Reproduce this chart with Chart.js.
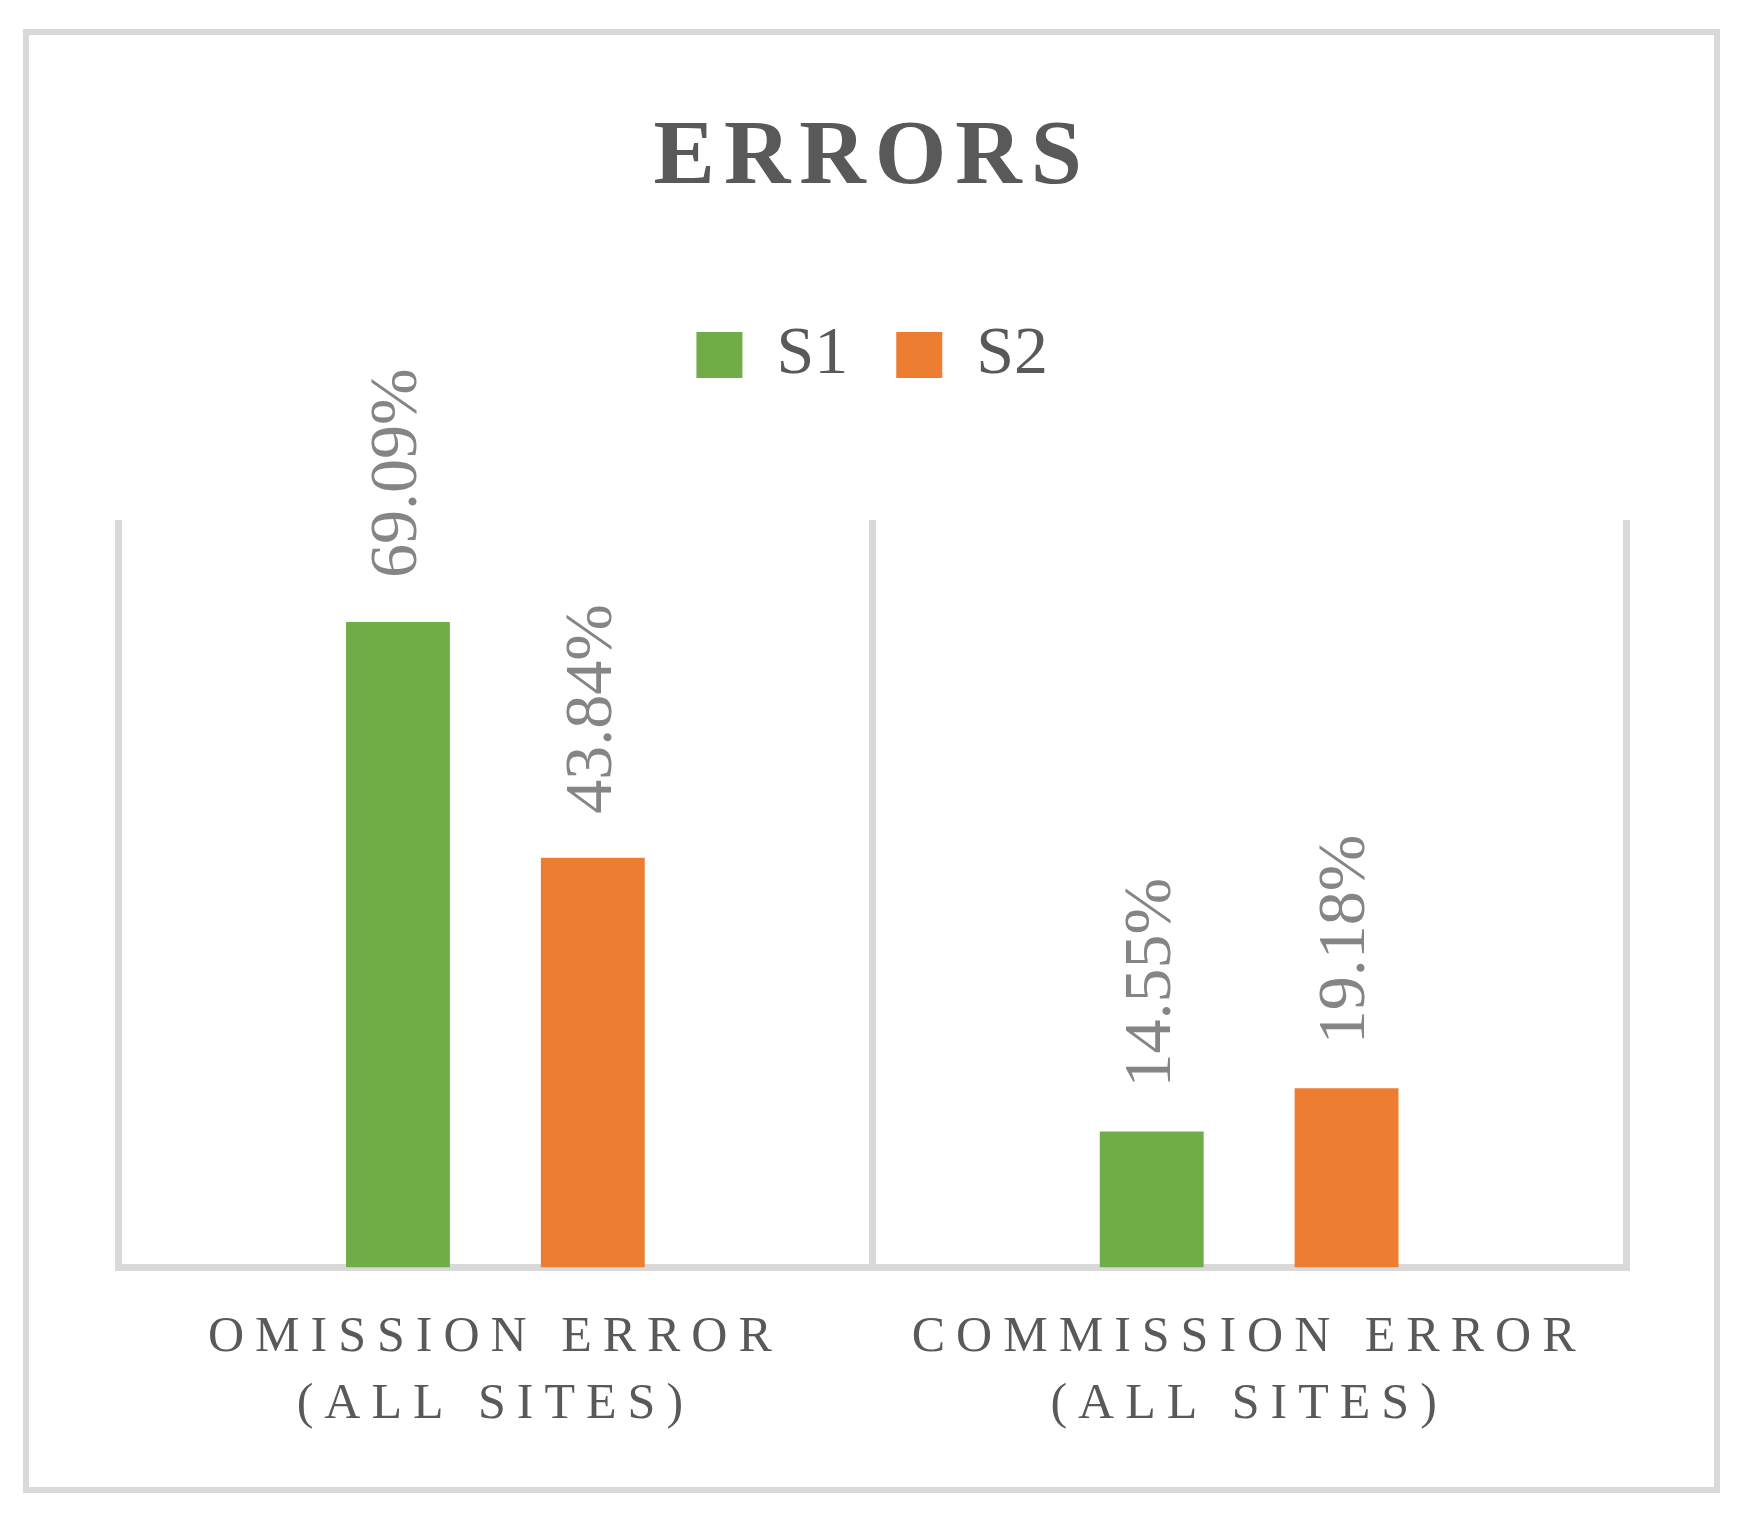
<!DOCTYPE html>
<html>
<head>
<meta charset="utf-8">
<script src="https://cdn.jsdelivr.net/npm/chart.js"></script>
<style>
html,body{margin:0;padding:0;background:#ffffff;}
canvas{display:block;}
</style>
</head>
<body>
<canvas id="c" width="1746" height="1528"></canvas>
<script>
// ---- data ----
const chartTitle = 'ERRORS';
const categories = [['OMISSION ERROR', '(ALL SITES)'], ['COMMISSION ERROR', '(ALL SITES)']];
const seriesNames = ['S1', 'S2'];
const s1Values = [69.09, 14.55];
const s2Values = [43.84, 19.18];
const yMin = 0;
const yMax = 80;

// ---- style ----
const SERIF = '"Liberation Serif", "DejaVu Serif", serif';
const GREEN = '#70AD47';
const ORANGE = '#ED7D31';
const GRID = '#D9D9D9';
const TEXT = '#595959';
const VALUE_TEXT = '#858585';

function wrapSpacing(obj, name, spacing) {
  if (!obj || obj['__wrapped_' + name]) return;
  const orig = obj[name];
  obj[name] = function () {
    const c = this.ctx;
    const prev = c.letterSpacing;
    c.letterSpacing = spacing;
    try { return orig.apply(this, arguments); }
    finally { c.letterSpacing = prev; }
  };
  obj['__wrapped_' + name] = true;
}

const layoutPlugin = {
  id: 'layoutTweaks',
  beforeLayout(chart) {
    wrapSpacing(chart.titleBlock, 'draw', '9px');
    const lg = chart.legend;
    if (lg && !lg.__fitWrapped) {
      const f = lg.fit;
      lg.fit = function () { f.apply(this, arguments); this.height += 121; };
      lg.__fitWrapped = true;
    }
  },
  beforeDraw(chart) {
    wrapSpacing(chart.scales.x, 'drawLabels', '11px');
    const ctx = chart.ctx;
    ctx.save();
    ctx.fillStyle = '#ffffff';
    ctx.fillRect(0, 0, chart.width, chart.height);
    ctx.strokeStyle = GRID;
    ctx.lineWidth = 6;
    ctx.strokeRect(26, 32, 1691, 1458);
    ctx.restore();
  },
  afterDatasetsDraw(chart) {
    const ctx = chart.ctx;
    chart.data.datasets.forEach((ds, di) => {
      const meta = chart.getDatasetMeta(di);
      meta.data.forEach((bar, i) => {
        ctx.save();
        ctx.translate(bar.x, bar.y - 44);
        ctx.rotate(-Math.PI / 2);
        ctx.font = '68px ' + SERIF;
        ctx.fillStyle = VALUE_TEXT;
        ctx.textAlign = 'left';
        ctx.textBaseline = 'middle';
        ctx.fillText(ds.data[i].toFixed(2) + '%', 0, 0);
        ctx.restore();
      });
    });
  }
};

new Chart(document.getElementById('c'), {
  type: 'bar',
  data: {
    labels: categories,
    datasets: [
      { label: seriesNames[0], data: s1Values, backgroundColor: GREEN, borderWidth: 0,
        categoryPercentage: 0.517, barPercentage: 0.533 },
      { label: seriesNames[1], data: s2Values, backgroundColor: ORANGE, borderWidth: 0,
        categoryPercentage: 0.517, barPercentage: 0.533 }
    ]
  },
  options: {
    responsive: false,
    animation: false,
    devicePixelRatio: 1,
    layout: { padding: { top: 0, left: 118.5, right: 120, bottom: 52.5 } },
    plugins: {
      title: {
        display: true,
        text: chartTitle,
        color: TEXT,
        font: { family: SERIF, size: 92, weight: 'bold', lineHeight: 1.2 },
        padding: { top: 104, bottom: 58.6 }
      },
      legend: {
        display: true,
        position: 'top',
        labels: {
          color: TEXT,
          font: { family: SERIF, size: 68 },
          boxWidth: 46,
          boxHeight: 46,
          padding: 48
        }
      },
      tooltip: { enabled: false }
    },
    scales: {
      x: {
        grid: { display: true, offset: true, color: GRID, lineWidth: 7, drawTicks: false },
        border: { display: true, color: GRID, width: 7 },
        ticks: {
          color: TEXT,
          font: { family: SERIF, size: 50, lineHeight: 1.34 },
          padding: 37,
          maxRotation: 0,
          autoSkip: false
        }
      },
      y: {
        display: false,
        min: yMin,
        max: yMax
      }
    }
  },
  plugins: [layoutPlugin]
});
</script>
</body>
</html>
